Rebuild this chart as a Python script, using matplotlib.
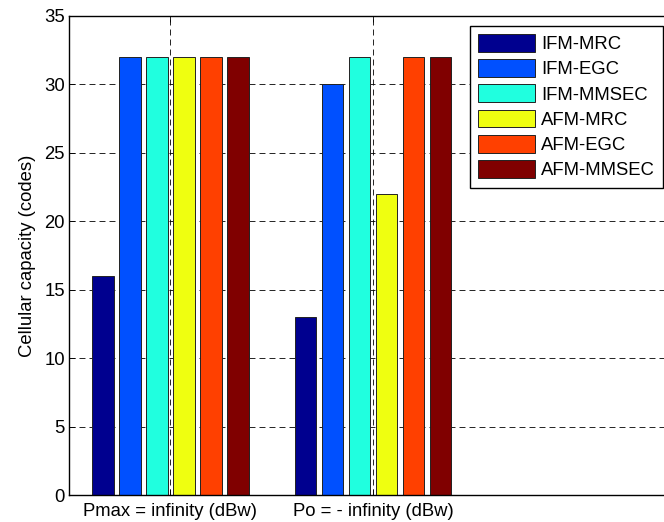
import numpy as np
import matplotlib
matplotlib.use('Agg')
import matplotlib.pyplot as plt

plt.rcParams['font.family'] = ['Liberation Sans', 'DejaVu Sans']
plt.rcParams['lines.scale_dashes'] = False

###############################################################################
# Data
groups = ['Pmax = infinity (dBw)', 'Po = - infinity (dBw)']
series = ['IFM-MRC', 'IFM-EGC', 'IFM-MMSEC', 'AFM-MRC', 'AFM-EGC', 'AFM-MMSEC']
capacity = [
    [16, 13],   # IFM-MRC
    [32, 30],   # IFM-EGC
    [32, 32],   # IFM-MMSEC
    [32, 22],   # AFM-MRC
    [32, 32],   # AFM-EGC
    [32, 32],   # AFM-MMSEC
]
colors = ['#00008f', '#0050ff', '#20ffdf', '#efff10', '#ff4000', '#800000']

fs = 13.3

###############################################################################
# Plot (matlab style grouped bars)
fig = plt.figure(figsize=(6.64, 5.22), dpi=100)
ax = fig.add_axes([69 / 664, 1 - 495 / 522, 608 / 664, 479 / 522])

x = np.arange(1, len(groups) + 1)
n = len(series)
step = 0.8 / n
width = 0.8 * step
for i, (name, vals, col) in enumerate(zip(series, capacity, colors)):
    offs = (i - (n - 1) / 2) * step
    ax.bar(x + offs, vals, width=width, color=col, edgecolor='#222222',
           linewidth=0.7, label=name)

ax.set_xlim(0.5, 3.5)
ax.set_ylim(0, 35)
ax.set_xticks(x)
ax.set_xticklabels(groups)
ax.set_yticks(np.arange(0, 36, 5))
ax.set_ylabel('Cellular capacity (codes)', fontsize=fs, labelpad=6)
ax.tick_params(direction='in', length=4, width=0.6, labelsize=fs, pad=3,
               top=True, right=True, colors='black')
ax.tick_params(axis='x', pad=6)

ax.set_axisbelow(True)
ax.grid(True, color='black', linewidth=0.6, linestyle=(0, (4.3, 2.9)))
for sp in ax.spines.values():
    sp.set_linewidth(1.0)

leg = ax.legend(loc='upper right', bbox_to_anchor=(663 / 664, 1 - 25.7 / 522),
                bbox_transform=fig.transFigure, borderaxespad=0,
                fancybox=False, frameon=True, framealpha=1, edgecolor='black',
                fontsize=fs, handlelength=3.1, handleheight=1.1,
                labelspacing=0.33, handletextpad=0.3, borderpad=0.45)
leg.get_frame().set_linewidth(1.0)

fig.savefig('out.png', dpi=100)
